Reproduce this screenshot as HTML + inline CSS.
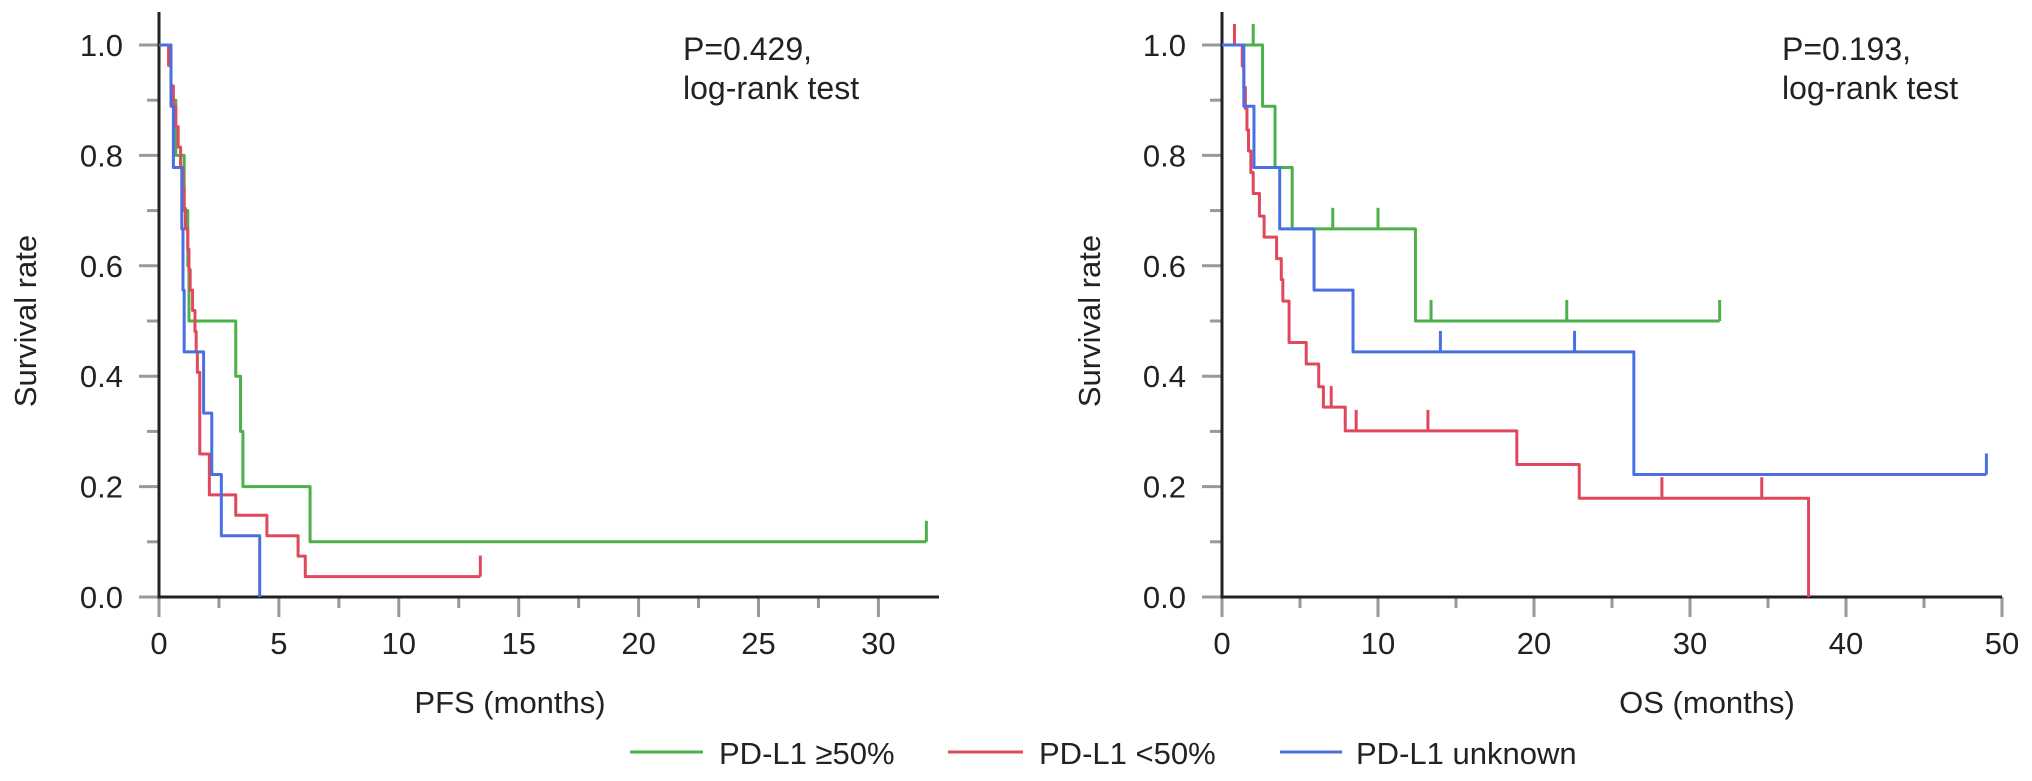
<!DOCTYPE html>
<html><head><meta charset="utf-8"><style>
html,body{margin:0;padding:0;background:#fff;}
svg{display:block;font-family:"Liberation Sans",sans-serif;}
</style></head><body>
<svg id="chart" width="2032" height="781" viewBox="0 0 2032 781">
<text x="683" y="60" font-size="32" fill="#222">P=0.429,</text>
<text x="683" y="99" font-size="32" fill="#222">log-rank test</text>
<text x="1782" y="60" font-size="32" fill="#222">P=0.193,</text>
<text x="1782" y="99" font-size="32" fill="#222">log-rank test</text>
<g>
<line x1="630" y1="752" x2="703" y2="752" stroke="#4cb14a" stroke-width="3"/>
<text x="719" y="764" font-size="31" fill="#222">PD-L1 ≥50%</text>
<line x1="948" y1="752" x2="1023" y2="752" stroke="#e0485c" stroke-width="3"/>
<text x="1039" y="764" font-size="31" fill="#222">PD-L1 &lt;50%</text>
<line x1="1280" y1="752" x2="1342" y2="752" stroke="#4a6fe3" stroke-width="3"/>
<text x="1356" y="764" font-size="31" fill="#222">PD-L1 unknown</text>
</g>
</svg>
<script>
// ---- PFS data ----
const pfsXTicks = [0,5,10,15,20,25,30];
const pfsGreenTimes = [0.5,0.7,1.05,1.2,1.25,3.2,3.4,3.5,6.3];
const pfsGreenSurv  = [0.9,0.8,0.7,0.6,0.5,0.4,0.3,0.2,0.1];
const pfsGreenCensor = [32];
const pfsGreenEnd = 32;
const pfsRedTimes = [0.4,0.5,0.6,0.7,0.8,0.9,1.0,1.05,1.1,1.2,1.25,1.3,1.4,1.5,1.55,1.6,1.7,2.1,3.2,4.5,5.8,6.1];
const pfsRedSurv  = [0.963,0.926,0.889,0.852,0.815,0.778,0.741,0.704,0.667,0.630,0.593,0.556,0.519,0.481,0.444,0.407,0.259,0.185,0.148,0.111,0.074,0.037];
const pfsRedCensor = [13.4];
const pfsRedEnd = 13.4;
const pfsBlueTimes = [0.5,0.6,0.95,1.0,1.05,1.86,2.2,2.6,4.2];
const pfsBlueSurv  = [0.889,0.778,0.667,0.556,0.444,0.333,0.222,0.111,0];
const pfsBlueCensor = [];
const pfsBlueEnd = 4.2;
// ---- OS data ----
const osXTicks = [0,10,20,30,40,50];
const osGreenTimes = [2.6,3.4,4.5,12.4];
const osGreenSurv  = [0.889,0.778,0.667,0.5];
const osGreenCensor = [2.0,7.1,10.0,13.4,22.1,31.9];
const osGreenEnd = 31.9;
const osRedTimes = [1.3,1.4,1.5,1.6,1.7,1.85,2.0,2.4,2.7,3.5,3.8,3.9,4.3,5.4,6.2,6.5,7.9,18.9,22.9,37.6];
const osRedSurv  = [0.962,0.923,0.885,0.846,0.808,0.769,0.731,0.690,0.652,0.613,0.575,0.536,0.461,0.422,0.381,0.344,0.301,0.240,0.179,0];
const osRedCensor = [0.8,7.0,8.6,13.2,28.2,34.6];
const osRedEnd = 37.6;
const osBlueTimes = [1.4,2.05,3.7,5.9,8.4,26.4];
const osBlueSurv  = [0.889,0.778,0.667,0.556,0.444,0.222];
const osBlueCensor = [14.0,22.6,49.0];
const osBlueEnd = 49.0;
const yTicks = [0,0.2,0.4,0.6,0.8,1.0];

const NS = "http://www.w3.org/2000/svg";
const svg = document.getElementById('chart');
const GREEN="#4cb14a", RED="#e0485c", BLUE="#4a6fe3";
function mk(tag, attrs, parent){const e=document.createElementNS(NS,tag);for(const k in attrs)e.setAttribute(k,attrs[k]);(parent||svg).appendChild(e);return e;}

function panel(cfg){
  const g = mk('g',{});
  
  
  const X = t => cfg.x0 + (t - 0) * (cfg.x1 - cfg.x0) / cfg.xmax;
  const Y = v => cfg.y0 - v * (cfg.y0 - cfg.y1);
  // y ticks (major + minor)
  for (let i=0;i<=10;i++){
    const v=i/10, major=i%2===0;
    const t = mk('line',{x1:cfg.x0-(major?20:12),x2:cfg.x0,y1:Y(v),y2:Y(v),stroke:'#999','stroke-width':3},g);
    
    
  }
  yTicks.forEach(v=>{
    const t=mk('text',{x:cfg.x0-36,y:Y(v)+11,'font-size':31,'text-anchor':'end',fill:'#222'},g);
    t.textContent=v.toFixed(1);
    
    
  });
  // x ticks
  const step = cfg.ticks[1]-cfg.ticks[0];
  for (let t=0; t<=cfg.xmax+1e-9; t+=step/2){
    const major = Math.abs(t/step - Math.round(t/step))<1e-6;
    const l=mk('line',{x1:X(t),x2:X(t),y1:cfg.y0,y2:cfg.y0+(major?20:11),stroke:'#999','stroke-width':3},g);
    
    
  }
  cfg.ticks.forEach(v=>{
    const t=mk('text',{x:X(v),y:654,'font-size':31,'text-anchor':'middle',fill:'#222'},g);
    t.textContent=v;
    
    
  });
  // axes
  const ax=mk('path',{d:`M${cfg.x0},12 V${cfg.y0} H${cfg.axEnd}`,stroke:'#222','stroke-width':3,fill:'none'},g);
  
  
  const xt=mk('text',{x:cfg.xTitleX,y:713,'font-size':31,'text-anchor':'middle',fill:'#222'},g);
  xt.textContent=cfg.xTitle;
  
  
  const yt=mk('text',{x:0,y:0,'font-size':31,'text-anchor':'middle',fill:'#222',transform:`translate(${cfg.yTitleX},${(cfg.y0+cfg.y1)/2}) rotate(-90)`},g);
  yt.textContent='Survival rate';
  
  
  // curves
  cfg.series.forEach(s=>{
    let d=`M${X(0)},${Y(1)}`, cur=1;
    s.times.forEach((t,i)=>{ d+=` H${X(t)} V${Y(s.surv[i])}`; cur=s.surv[i]; });
    d+=` H${X(s.end)}`;
    const p=mk('path',{d:d,stroke:s.color,'stroke-width':3,fill:'none','stroke-linejoin':'round'},g);
    
    
    s.censor.forEach(c=>{
      let v=1; s.times.forEach((t,i)=>{ if(t<=c) v=s.surv[i]; });
      const m=mk('line',{x1:X(c),x2:X(c),y1:Y(v),y2:Y(v)-21,stroke:s.color,'stroke-width':3},g);
      
      
    });
  });
}

panel({name:'pfs-panel',x0:159,x1:159+23.98*32,xmax:32,axEnd:939,y0:597,y1:45,ticks:pfsXTicks,
  xTitle:'PFS (months)',xTitleX:510,yTitleX:36,
  series:[
    {name:'pfs-curve-high',color:GREEN,times:pfsGreenTimes,surv:pfsGreenSurv,censor:pfsGreenCensor,end:pfsGreenEnd},
    {name:'pfs-curve-low',color:RED,times:pfsRedTimes,surv:pfsRedSurv,censor:pfsRedCensor,end:pfsRedEnd},
    {name:'pfs-curve-unknown',color:BLUE,times:pfsBlueTimes,surv:pfsBlueSurv,censor:pfsBlueCensor,end:pfsBlueEnd}
  ]});
panel({name:'os-panel',x0:1222,x1:2002,xmax:50,axEnd:2002,y0:597,y1:45,ticks:osXTicks,
  xTitle:'OS (months)',xTitleX:1707,yTitleX:1100,
  series:[
    {name:'os-curve-high',color:GREEN,times:osGreenTimes,surv:osGreenSurv,censor:osGreenCensor,end:osGreenEnd},
    {name:'os-curve-low',color:RED,times:osRedTimes,surv:osRedSurv,censor:osRedCensor,end:osRedEnd},
    {name:'os-curve-unknown',color:BLUE,times:osBlueTimes,surv:osBlueSurv,censor:osBlueCensor,end:osBlueEnd}
  ]});
</script>
</body></html>
